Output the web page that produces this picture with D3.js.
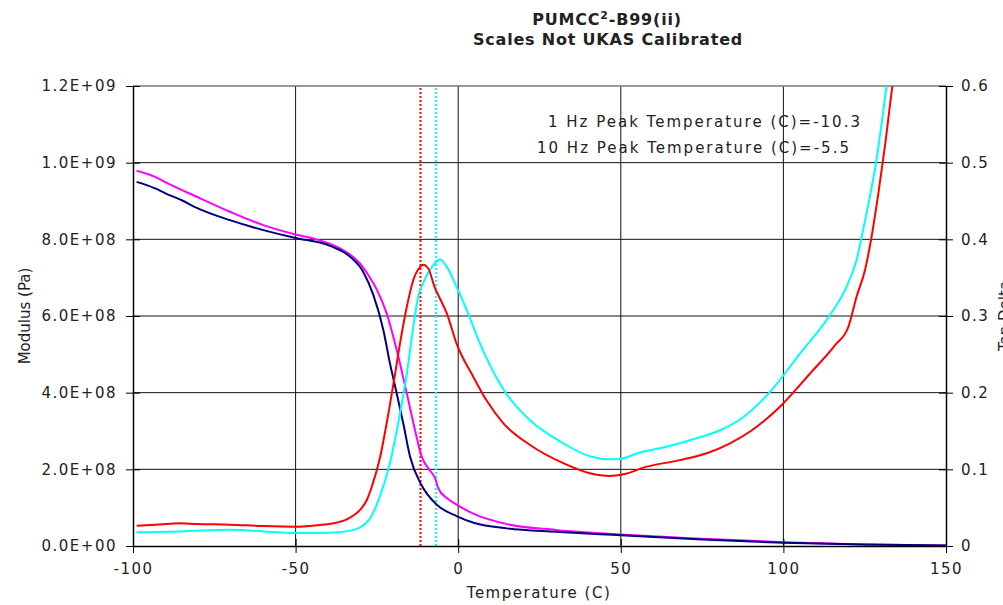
<!DOCTYPE html>
<html>
<head>
<meta charset="utf-8">
<script src="https://cdn.jsdelivr.net/npm/d3@7"></script>
<style>
  body { margin: 0; background: #fff; }
  svg text { font-family: "DejaVu Sans", sans-serif; fill: #222; }
</style>
</head>
<body>
<svg id="chart" width="1003" height="605"></svg>
<script>
// storage modulus curves (Pa)
const navyTemp = [-98.9, -93.2, -90, -85, -80.4, -70.2, -59.9, -49.7, -39.4, -33.3, -29.2, -26.1, -23.0, -21.0, -18.9, -16.9, -14.8, -11.3, -6.6, -0.5, 5, 15, 30, 50, 75, 100, 125, 150];
const navyModulus = [9.50e8, 9.33e8, 9.20e8, 9.02e8, 8.82e8, 8.50e8, 8.24e8, 8.03e8, 7.83e8, 7.55e8, 7.15e8, 6.55e8, 5.63e8, 4.77e8, 3.98e8, 3.20e8, 2.33e8, 1.59e8, 1.08e8, 7.8e7, 6.0e7, 4.6e7, 3.7e7, 2.8e7, 1.7e7, 8.5e6, 4e6, 1.5e6];

const magentaTemp = [-98.9, -93.2, -90.7, -80.4, -70.2, -59.9, -49.7, -43.6, -35.4, -30.2, -27.5, -25.1, -22.0, -18.9, -15.8, -13.3, -11.3, -9.0, -7.1, -6.1, -3.5, -0.5, 5, 15, 30, 50, 75, 100, 125, 150];
const magentaModulus = [9.79e8, 9.63e8, 9.52e8, 9.11e8, 8.72e8, 8.37e8, 8.12e8, 8.0e8, 7.72e8, 7.37e8, 7.05e8, 6.70e8, 6.07e8, 5.11e8, 3.98e8, 3.03e8, 2.35e8, 2.0e8, 1.77e8, 1.5e8, 1.25e8, 1.08e8, 8.3e7, 5.7e7, 4.2e7, 3.0e7, 1.9e7, 1.0e7, 4e6, 1.5e6];

// tan delta curves
const redTemp = [-98.9, -92, -85.6, -80.4, -70.2, -59.9, -50.2, -43.6, -38.4, -34.3, -30.2, -28.1, -26.6, -24.0, -22.0, -19.9, -17.9, -15.8, -13.8, -11.7, -10.8, -9.2, -7.1, -6.1, -3.5, -0.5, 4.6, 8.7, 13.9, 22.1, 32.3, 40.5, 46.7, 50.8, 58.0, 68.2, 76.4, 83.6, 90, 99.5, 108.2, 115.9, 120.0, 122.5, 125.1, 127.1, 129.2, 131.2, 133.5, 135];
const redTanDelta = [0.0265, 0.028, 0.0296, 0.0287, 0.0278, 0.026, 0.0252, 0.027, 0.0296, 0.0348, 0.047, 0.060, 0.077, 0.116, 0.160, 0.212, 0.264, 0.312, 0.347, 0.364, 0.367, 0.362, 0.336, 0.327, 0.3035, 0.264, 0.221, 0.190, 0.160, 0.1317, 0.108, 0.0948, 0.0913, 0.0935, 0.1035, 0.112, 0.121, 0.134, 0.150, 0.184, 0.225, 0.262, 0.286, 0.325, 0.36, 0.403, 0.46, 0.521, 0.599, 0.64];

const cyanTemp = [-98.9, -85, -70.2, -60, -50.2, -39.4, -32, -29.2, -27.1, -24.3, -21.0, -17.9, -15.8, -13.8, -12.3, -10.8, -8.7, -6.6, -5.7, -3.5, -0.5, 2.6, 6.7, 14.4, 22.1, 32.3, 40.5, 46.7, 49.7, 55.9, 64.1, 73.3, 80.5, 87, 95.9, 105.1, 114.3, 119.4, 122.5, 124.5, 126.6, 128.6, 130.2, 131.7, 133];
const cyanTanDelta = [0.0179, 0.019, 0.0213, 0.019, 0.0168, 0.0174, 0.021, 0.027, 0.036, 0.062, 0.108, 0.173, 0.225, 0.286, 0.325, 0.343, 0.36, 0.371, 0.374, 0.364, 0.338, 0.308, 0.264, 0.201, 0.164, 0.134, 0.117, 0.113, 0.1135, 0.122, 0.1295, 0.1405, 0.151, 0.166, 0.201, 0.251, 0.301, 0.338, 0.373, 0.412, 0.456, 0.503, 0.551, 0.599, 0.64];

const xTicks = [-100, -50, 0, 50, 100, 150];
const yLeftTicks = [0, 2e8, 4e8, 6e8, 8e8, 1.0e9, 1.2e9];
const yRightTicks = [0, 0.1, 0.2, 0.3, 0.4, 0.5, 0.6];
const peakLineTemps = [-11.6, -6.8];
const peakLineColors = ["#ff0000", "#00ffff"];
const notes = ["1 Hz Peak Temperature (C)=-10.3", "10 Hz Peak Temperature (C)=-5.5"];

const margin = { top: 86, right: 57, bottom: 59, left: 133 };
const width = 1003, height = 605;

const svg = d3.select("#chart");

const x = d3.scaleLinear().domain([-100, 150]).range([margin.left, width - margin.right]);
const yL = d3.scaleLinear().domain([0, 1.2e9]).range([height - margin.bottom, margin.top]);
const yR = d3.scaleLinear().domain([0, 0.6]).range([height - margin.bottom, margin.top]);

svg.append("defs").append("clipPath").attr("id", "plotclip")
   .append("rect").attr("x", margin.left).attr("y", margin.top)
   .attr("width", x(150) - x(-100)).attr("height", yL(0) - yL(1.2e9));

// grid
svg.append("g").selectAll("line").data(yLeftTicks.slice(1, -1)).enter().append("line")
   .attr("x1", x(-100)).attr("x2", x(150)).attr("y1", d => yL(d)).attr("y2", d => yL(d))
   .attr("stroke", "#111").attr("stroke-width", 1);
svg.append("g").selectAll("line").data(xTicks.slice(1, -1)).enter().append("line")
   .attr("x1", d => x(d)).attr("x2", d => x(d)).attr("y1", yL(0)).attr("y2", yL(1.2e9))
   .attr("stroke", "#111").attr("stroke-width", 1);
svg.append("line").attr("x1", x(-100)).attr("x2", x(150)).attr("y1", yL(1.2e9)).attr("y2", yL(1.2e9))
   .attr("stroke", "#777").attr("stroke-width", 1.5);

// peak marker lines
svg.append("g").selectAll("line").data(peakLineTemps).enter().append("line")
   .attr("x1", d => x(d)).attr("x2", d => x(d)).attr("y1", yL(0)).attr("y2", yL(1.2e9))
   .attr("stroke", (d, i) => peakLineColors[i]).attr("stroke-width", 2).attr("stroke-dasharray", "2,2");

// curves
const plot = svg.append("g").attr("clip-path", "url(#plotclip)");
function drawLine(temps, vals, yScale, color) {
    const line = d3.line().x(d => x(d[0])).y(d => yScale(d[1])).curve(d3.curveMonotoneX);
    plot.append("path").datum(d3.zip(temps, vals)).attr("d", line)
        .attr("fill", "none").attr("stroke", color).attr("stroke-width", 2);
}
drawLine(magentaTemp, magentaModulus, yL, "#ff00ff");
drawLine(navyTemp, navyModulus, yL, "#000080");
drawLine(cyanTemp, cyanTanDelta, yR, "#00ffff");
drawLine(redTemp, redTanDelta, yR, "#ff0000");

// axes
const fmtE = d => { const e = d === 0 ? 0 : Math.floor(Math.log10(d)); const m = d / Math.pow(10, e); return m.toFixed(1) + "E+" + String(e).padStart(2, "0"); };

const axL = svg.append("g").attr("transform", `translate(${margin.left},0)`)
   .call(d3.axisLeft(yL).tickValues(yLeftTicks).tickFormat(fmtE).tickSizeInner(7).tickSizeOuter(0).tickPadding(9));
const axB = svg.append("g").attr("transform", `translate(0,${height - margin.bottom})`)
   .call(d3.axisBottom(x).tickValues(xTicks).tickFormat(d => String(d)).tickSizeInner(7).tickSizeOuter(0).tickPadding(10));
const axR = svg.append("g").attr("transform", `translate(${width - margin.right},0)`)
   .call(d3.axisRight(yR).tickValues(yRightTicks).tickFormat(d => d === 0 ? "0" : d3.format(".1f")(d)).tickSizeInner(7).tickSizeOuter(0).tickPadding(8));

[axL, axB, axR].forEach(a => {
    a.select(".domain").attr("stroke", "#000").attr("stroke-width", 1.5);
    a.selectAll(".tick line").attr("stroke", "#000");
    a.selectAll(".tick text").attr("font-size", "15px").attr("fill", "#222").attr("letter-spacing", "1.5px")
     .attr("font-family", "DejaVu Sans, sans-serif");
});
// ticks cross the axis
axL.selectAll(".tick line").attr("x1", 7);
axB.selectAll(".tick line").attr("y1", -7);
axR.selectAll(".tick line").attr("x1", -7);

// titles
const title = svg.append("text").attr("x", 607).attr("y", 25).attr("text-anchor", "middle")
   .attr("font-size", "16px").attr("font-weight", "bold").attr("letter-spacing", "0.8px");
title.append("tspan").text("PUMCC");
title.append("tspan").attr("dy", -6).attr("font-size", "11px").text("2");
title.append("tspan").attr("dy", 6).text("-B99(ii)");
svg.append("text").attr("x", 608).attr("y", 45).attr("text-anchor", "middle")
   .attr("font-size", "16px").attr("font-weight", "bold").attr("letter-spacing", "0.8px").text("Scales Not UKAS Calibrated");

svg.append("text").attr("x", 539).attr("y", 598).attr("text-anchor", "middle")
   .attr("font-size", "15px").attr("letter-spacing", "1.5px").text("Temperature (C)");
svg.append("text").attr("transform", "rotate(-90)").attr("x", -316).attr("y", 30)
   .attr("text-anchor", "middle").attr("font-size", "15px").text("Modulus (Pa)");
svg.append("text").attr("transform", "rotate(-90)").attr("x", -316).attr("y", 1010)
   .attr("text-anchor", "middle").attr("font-size", "15px").text("Tan Delta");

// peak notes
svg.selectAll(".note").data(notes).enter().append("text").attr("class", "note")
   .attr("x", (d, i) => i === 0 ? 548 : 537).attr("y", (d, i) => 127 + i * 26)
   .attr("font-size", "15px").attr("letter-spacing", "2px").text(d => d);
</script>
</body>
</html>
